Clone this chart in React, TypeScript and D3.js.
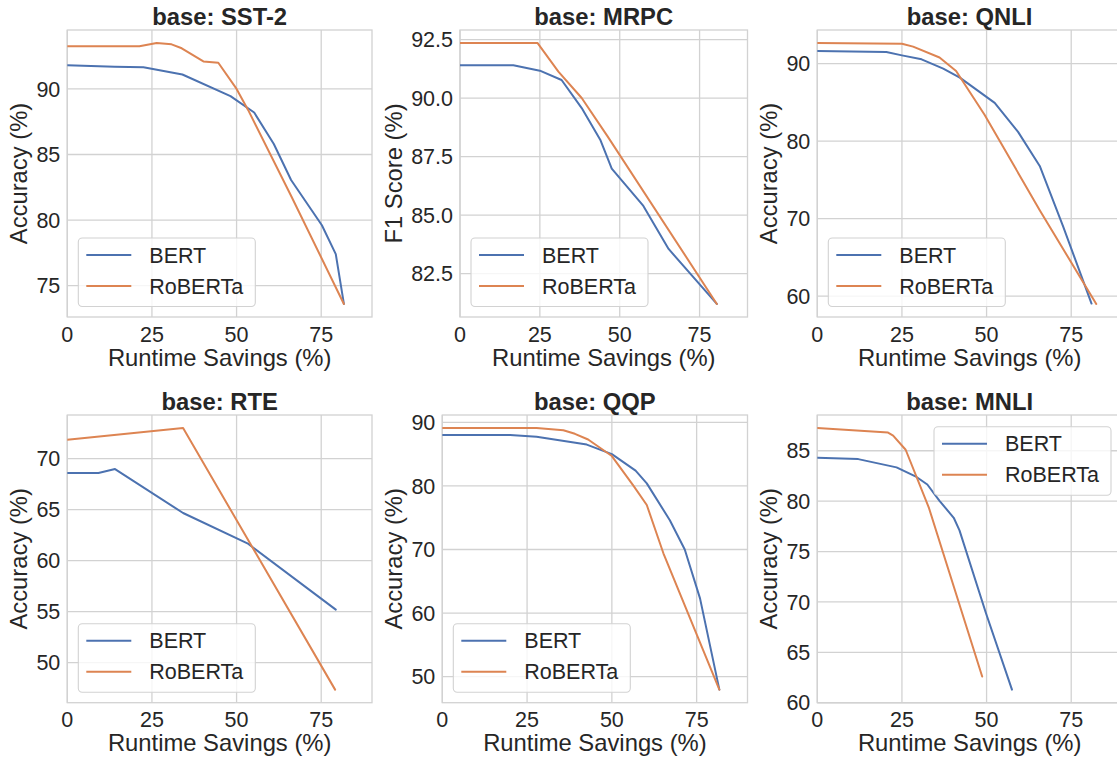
import React from 'react';
import * as d3 from 'd3';

// ---- Data (x = runtime savings %, y = score %) ----
const xTicks = [0, 25, 50, 75];
const seriesNames = ['BERT', 'RoBERTa'];

const sst2Bert = [[0, 91.8], [14, 91.7], [22.5, 91.65], [34, 91.1], [48.2, 89.45], [55.2, 88.2], [61, 85.8], [66.1, 83.05], [75.2, 79.6], [79.3, 77.4], [81.7, 73.6]];
const sst2Roberta = [[0, 93.25], [21.3, 93.25], [26.4, 93.5], [30.8, 93.4], [33.8, 93.1], [40.2, 92.1], [44.6, 92.0], [50, 90.0], [53.4, 88.4], [66.2, 81.8], [81.7, 73.6]];
const sst2Ticks = [75, 80, 85, 90];

const mrpcBert = [[0, 91.4], [16.7, 91.4], [25, 91.17], [31.8, 90.77], [38.1, 89.57], [43.9, 88.22], [47.5, 86.98], [57.4, 85.39], [65.3, 83.55], [80.4, 81.2]];
const mrpcRoberta = [[0, 92.35], [24.3, 92.35], [30.8, 91.13], [38.1, 90.0], [46.2, 88.36], [80.4, 81.2]];
const mrpcTicks = [82.5, 85.0, 87.5, 90.0, 92.5];

const qnliBert = [[0, 91.63], [20.4, 91.5], [25, 91.07], [30.8, 90.56], [37.2, 89.36], [42.1, 88.2], [52.4, 84.94], [59.3, 81.2], [65.7, 76.8], [72.6, 69.0], [81, 59.05]];
const qnliRoberta = [[0, 92.66], [25, 92.57], [28.3, 92.2], [36.1, 90.8], [41, 89.06], [49.4, 83.4], [65.7, 71.1], [82.4, 59.0]];
const qnliTicks = [60, 70, 80, 90];

const rteBert = [[0, 68.59], [9.2, 68.59], [14.1, 68.98], [34.2, 64.67], [53.2, 61.7], [79.3, 55.2]];
const rteRoberta = [[0, 71.86], [34.2, 73.0], [79.1, 47.35]];
const rteTicks = [50, 55, 60, 65, 70];

const qqpBert = [[0, 88.0], [20, 88.0], [27.8, 87.75], [42.6, 86.5], [50, 85.0], [57, 82.4], [60.3, 80.4], [67.1, 74.6], [71.5, 70.0], [76, 62.3], [81.7, 47.95]];
const qqpRoberta = [[0, 89.1], [27.8, 89.1], [35.7, 88.75], [39.1, 88.2], [43, 87.3], [50, 84.7], [56.4, 80.0], [60.3, 77.0], [65.2, 69.4], [81.7, 47.95]];
const qqpTicks = [50, 60, 70, 80, 90];

const mnliBert = [[0, 84.3], [12.1, 84.17], [23.4, 83.35], [29.3, 82.4], [32.5, 81.65], [36.1, 80.03], [40.3, 78.35], [42, 77.1], [49.8, 68.9], [57.5, 61.3]];
const mnliRoberta = [[0, 87.25], [20.9, 86.8], [22.4, 86.5], [26.1, 85.1], [33, 79.3], [48.7, 62.6]];
const mnliTicks = [60, 65, 70, 75, 80, 85];

// ---- Panel configuration ----
const panels = [
  { title: 'base: SST-2', ylabel: 'Accuracy (%)', bert: sst2Bert, roberta: sst2Roberta, ticks: sst2Ticks, fmt: '', L: 67.3, R: 372, T: 30, B: 317, legend: 'll' },
  { title: 'base: MRPC', ylabel: 'F1 Score (%)', bert: mrpcBert, roberta: mrpcRoberta, ticks: mrpcTicks, fmt: '.1f', L: 460, R: 747.5, T: 30, B: 317, legend: 'll' },
  { title: 'base: QNLI', ylabel: 'Accuracy (%)', bert: qnliBert, roberta: qnliRoberta, ticks: qnliTicks, fmt: '', L: 817.3, R: 1122, T: 30, B: 317, legend: 'll' },
  { title: 'base: RTE', ylabel: 'Accuracy (%)', bert: rteBert, roberta: rteRoberta, ticks: rteTicks, fmt: '', L: 67.3, R: 372, T: 415, B: 702.7, legend: 'll' },
  { title: 'base: QQP', ylabel: 'Accuracy (%)', bert: qqpBert, roberta: qqpRoberta, ticks: qqpTicks, fmt: '', L: 442.3, R: 747.5, T: 415, B: 702.7, legend: 'll' },
  { title: 'base: MNLI', ylabel: 'Accuracy (%)', bert: mnliBert, roberta: mnliRoberta, ticks: mnliTicks, fmt: '', L: 817.3, R: 1122, T: 415, B: 702.7, legend: 'ur' },
];

const COLORS = ['#4c72b0', '#dd8452'];
const TEXT = '#262626';
const GRID = '#d2d2d2';
const FONT = '"Liberation Sans", Arial, sans-serif';
const TICK_FS = 21.5;
const LABEL_FS = 23.8;

function Panel({ p }: { p: any }) {
  const all = [...p.bert, ...p.roberta].map((d: number[]) => d[1]);
  const [mn, mx] = d3.extent(all) as [number, number];
  const pad = (mx - mn) * 0.05;
  const x = d3.scaleLinear().domain([0, 90]).range([p.L, p.R]);
  const y = d3.scaleLinear().domain([mn - pad, mx + pad]).range([p.B, p.T]);
  const line = d3.line<number[]>().x(d => x(d[0])).y(d => y(d[1]));
  const fmt = p.fmt ? d3.format(p.fmt) : (v: number) => String(v);
  const tickLabels = p.ticks.map((t: number) => fmt(t));
  const maxW = d3.max(tickLabels, (s: string) => s.split('').reduce((a, c) => a + (c === '.' ? 0.278 : 0.556), 0) * TICK_FS) as number;
  const ylabX = p.L - 7 - maxW - 9;
  const cy = (p.T + p.B) / 2;
  const cx = (p.L + p.R) / 2;

  const lw = 177, lh = 68.5;
  const lx = p.legend === 'll' ? p.L + 11 : p.R - 11 - lw;
  const ly = p.legend === 'll' ? p.B - 10.5 - lh : p.T + 11.7;

  const clipId = 'clip-' + p.title.replace(/[^a-z0-9]/gi, '');
  return (
    <g>
      <defs>
        <clipPath id={clipId}>
          <rect x={p.L} y={p.T} width={p.R - p.L} height={p.B - p.T} />
        </clipPath>
      </defs>
      {/* grid */}
      {xTicks.map(t => (
        <line key={'gx' + t} x1={x(t)} x2={x(t)} y1={p.T} y2={p.B} stroke={GRID} strokeWidth={1.3} />
      ))}
      {p.ticks.map((t: number) => (
        <line key={'gy' + t} x1={p.L} x2={p.R} y1={y(t)} y2={y(t)} stroke={GRID} strokeWidth={1.3} />
      ))}
      {/* spines */}
      <rect x={p.L} y={p.T} width={p.R - p.L} height={p.B - p.T} fill="none" stroke={GRID} strokeWidth={1.3} />
      {/* lines */}
      <g clipPath={`url(#${clipId})`}>
        <path d={line(p.bert) as string} fill="none" stroke={COLORS[0]} strokeWidth={2} strokeLinejoin="round" strokeLinecap="round" />
        <path d={line(p.roberta) as string} fill="none" stroke={COLORS[1]} strokeWidth={2} strokeLinejoin="round" strokeLinecap="round" />
      </g>
      {/* x tick labels */}
      {xTicks.map(t => (
        <text key={'xt' + t} x={x(t)} y={p.B + 24.7} textAnchor="middle" fontSize={TICK_FS} fill={TEXT}>{t}</text>
      ))}
      {/* y tick labels */}
      {p.ticks.map((t: number, i: number) => (
        <text key={'yt' + t} x={p.L - 7} y={y(t) + 7.7} textAnchor="end" fontSize={TICK_FS} fill={TEXT}>{tickLabels[i]}</text>
      ))}
      {/* axis labels */}
      <text x={cx} y={p.B + 48.7} textAnchor="middle" fontSize={LABEL_FS} fill={TEXT}>Runtime Savings (%)</text>
      <text transform={`translate(${ylabX},${cy}) rotate(-90)`} textAnchor="middle" fontSize={LABEL_FS} fill={TEXT}>{p.ylabel}</text>
      {/* title */}
      <text x={cx} y={p.T - 5} textAnchor="middle" fontSize={LABEL_FS} fontWeight="bold" fill={TEXT}>{p.title}</text>
      {/* legend */}
      <g>
        <rect x={lx} y={ly} width={lw} height={lh} rx={4} fill="#ffffff" fillOpacity={0.8} stroke={GRID} strokeWidth={1.1} />
        {seriesNames.map((n, i) => (
          <g key={n}>
            <line x1={lx + 8} x2={lx + 53} y1={ly + 17 + i * 31} y2={ly + 17 + i * 31} stroke={COLORS[i]} strokeWidth={2} />
            <text x={lx + 71} y={ly + 17 + i * 31 + 7.7} fontSize={TICK_FS} fill={TEXT}>{n}</text>
          </g>
        ))}
      </g>
    </g>
  );
}

export default function App() {
  return (
    <svg width={1117} height={760} style={{ position: 'absolute', left: 0, top: 0, background: '#fff' }} fontFamily={FONT}>
      <rect x={0} y={0} width={1117} height={760} fill="#fff" />
      {panels.map(p => <Panel key={p.title} p={p} />)}
    </svg>
  );
}
